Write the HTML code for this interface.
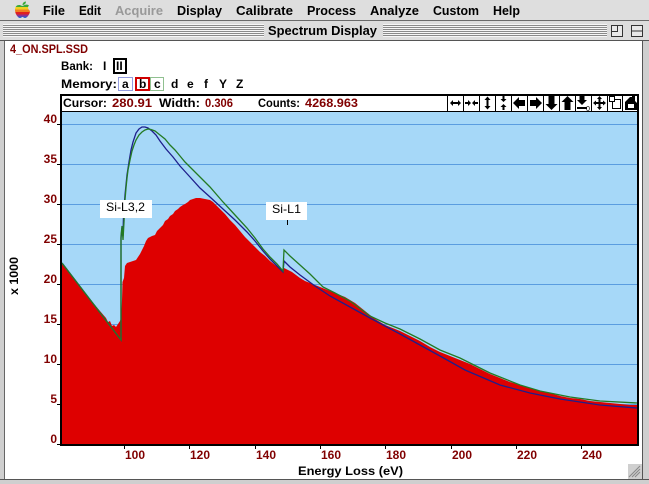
<!DOCTYPE html>
<html><head><meta charset="utf-8"><style>
html,body{margin:0;padding:0;background:#fff;width:649px;height:484px;overflow:hidden}
svg{display:block}
text{font-family:"Liberation Sans",Arial,sans-serif}
.b{font-weight:bold}
.m{font-size:13px;font-weight:bold;fill:#000}
.h{font-size:12px;font-weight:bold}
.dr{fill:#800000}
.tk{font-size:12px;font-weight:bold;fill:#800000}
</style></head><body>
<svg width="649" height="484" viewBox="0 0 649 484" xmlns="http://www.w3.org/2000/svg">
<defs>
<pattern id="pin" width="4" height="2" patternUnits="userSpaceOnUse"><rect width="4" height="1" fill="#f6f6f6"/><rect y="1" width="4" height="1" fill="#8a8a8a"/></pattern>
<clipPath id="pc"><rect x="62" y="112" width="575" height="332"/></clipPath>
<clipPath id="ap"><path d="M22,6 C19,4 15,5 15,10 C15,14 18,18 20,18 C21,18 22,17 22.5,17 C23,17 24,18 25,18 C27,18 30,14 30,11 C29,10 28,9 28,7.5 C28,6.5 28.5,6 29,5.5 C28,4.5 26,4.3 24.5,5 C23.5,5.5 22.5,6 22,6 Z M22.5,5 C22.5,3 24,1.5 26,1.5 C26,3.5 24.5,5 22.5,5 Z"/></clipPath>
</defs>
<rect width="649" height="484" fill="#fff"/>

<!-- menu bar -->
<rect x="0" y="0" width="649" height="21" fill="#dedede"/>
<line x1="0" y1="20.5" x2="649" y2="20.5" stroke="#6a6a6a"/>
<g clip-path="url(#ap)">
<rect x="14" y="0" width="18" height="7" fill="#3aa83a"/>
<rect x="14" y="7" width="18" height="2.5" fill="#f0d020"/>
<rect x="14" y="9.5" width="18" height="2.5" fill="#f08020"/>
<rect x="14" y="12" width="18" height="2.5" fill="#e02020"/>
<rect x="14" y="14.5" width="18" height="2" fill="#903090"/>
<rect x="14" y="16.5" width="18" height="3" fill="#2060d0"/>
</g>
<text class="m" x="43" y="15" textLength="22" lengthAdjust="spacingAndGlyphs">File</text>
<text class="m" x="79" y="15" textLength="22" lengthAdjust="spacingAndGlyphs">Edit</text>
<text class="m" x="115" y="15" textLength="48" lengthAdjust="spacingAndGlyphs" style="fill:#999">Acquire</text>
<text class="m" x="177" y="15" textLength="45" lengthAdjust="spacingAndGlyphs">Display</text>
<text class="m" x="236" y="15" textLength="57" lengthAdjust="spacingAndGlyphs">Calibrate</text>
<text class="m" x="307" y="15" textLength="49" lengthAdjust="spacingAndGlyphs">Process</text>
<text class="m" x="370" y="15" textLength="49" lengthAdjust="spacingAndGlyphs">Analyze</text>
<text class="m" x="433" y="15" textLength="46" lengthAdjust="spacingAndGlyphs">Custom</text>
<text class="m" x="493" y="15" textLength="27" lengthAdjust="spacingAndGlyphs">Help</text>

<!-- title bar -->
<rect x="0" y="21" width="649" height="20" fill="#dddddd"/>
<rect x="3" y="24" width="261" height="13" fill="url(#pin)"/>
<rect x="383" y="24" width="224" height="13" fill="url(#pin)"/>
<text class="m" x="268" y="35" textLength="109" lengthAdjust="spacingAndGlyphs">Spectrum Display</text>
<rect x="611.5" y="25.5" width="11" height="11" fill="#e8e8e8" stroke="#333"/>
<rect x="611.5" y="25.5" width="6" height="6" fill="none" stroke="#333"/>
<rect x="631.5" y="25.5" width="11" height="11" fill="#e8e8e8" stroke="#333"/>
<line x1="631.5" y1="31" x2="642.5" y2="31" stroke="#333"/>
<line x1="0" y1="40.5" x2="649" y2="40.5" stroke="#555"/>

<!-- window frame -->
<rect x="0" y="41" width="4" height="443" fill="#cfcfcf"/>
<line x1="4.5" y1="41" x2="4.5" y2="479" stroke="#666"/>
<rect x="643" y="41" width="6" height="443" fill="#cfcfcf"/>
<line x1="642.5" y1="41" x2="642.5" y2="479" stroke="#555"/>
<rect x="0" y="480" width="649" height="4" fill="#cfcfcf"/>
<line x1="0" y1="479.5" x2="649" y2="479.5" stroke="#555"/>
<rect x="628" y="464" width="14" height="15" fill="#cfcfcf"/>
<g stroke="#888" stroke-width="1"><line x1="632" y1="477" x2="640" y2="469"/><line x1="635" y1="477" x2="640" y2="472"/><line x1="629" y1="477" x2="640" y2="466"/></g>

<!-- header -->
<text class="h dr" x="10" y="53" textLength="78" lengthAdjust="spacingAndGlyphs">4_ON.SPL.SSD</text>
<text class="h" x="61" y="70" textLength="32" lengthAdjust="spacingAndGlyphs">Bank:</text>
<text class="h" x="103" y="70">I</text>
<rect x="114" y="59" width="12" height="14" fill="none" stroke="#000" stroke-width="2"/>
<text class="h" x="116" y="70">II</text>
<text class="h" x="61" y="88" textLength="56" lengthAdjust="spacingAndGlyphs">Memory:</text>
<rect x="118.5" y="77.5" width="14" height="13" fill="none" stroke="#2838c0" stroke-dasharray="1,1"/>
<text class="h" x="122" y="88">a</text>
<rect x="136" y="78" width="13" height="12" fill="none" stroke="#d00000" stroke-width="2"/>
<text class="h" x="139" y="88">b</text>
<rect x="150.5" y="77.5" width="13" height="13" fill="none" stroke="#208020" stroke-dasharray="1,1"/>
<text class="h" x="154" y="88">c</text>
<text class="h" x="171" y="88">d</text>
<text class="h" x="187" y="88">e</text>
<text class="h" x="204" y="88">f</text>
<text class="h" x="219" y="88">Y</text>
<text class="h" x="236" y="88">Z</text>

<!-- info bar -->
<rect x="61" y="95" width="577" height="17" fill="#fff" stroke="#000" stroke-width="2"/>
<text class="h" x="63" y="107" textLength="44" lengthAdjust="spacingAndGlyphs">Cursor:</text>
<text class="h dr" x="112" y="107" textLength="40" lengthAdjust="spacingAndGlyphs">280.91</text>
<text class="h" x="159" y="107" textLength="41" lengthAdjust="spacingAndGlyphs">Width:</text>
<text class="h dr" x="205" y="107" textLength="28" lengthAdjust="spacingAndGlyphs">0.306</text>
<text class="h" x="258" y="107" textLength="42" lengthAdjust="spacingAndGlyphs">Counts:</text>
<text class="h dr" x="305" y="107" textLength="53" lengthAdjust="spacingAndGlyphs">4268.963</text>

<!-- toolbar -->
<g stroke="#000" stroke-width="1">
<line x1="447.5" y1="95" x2="447.5" y2="111"/><line x1="463.5" y1="95" x2="463.5" y2="111"/><line x1="479.5" y1="95" x2="479.5" y2="111"/><line x1="495.5" y1="95" x2="495.5" y2="111"/><line x1="511.5" y1="95" x2="511.5" y2="111"/><line x1="527.5" y1="95" x2="527.5" y2="111"/><line x1="543.5" y1="95" x2="543.5" y2="111"/><line x1="559.5" y1="95" x2="559.5" y2="111"/><line x1="575.5" y1="95" x2="575.5" y2="111"/><line x1="591.5" y1="95" x2="591.5" y2="111"/><line x1="607.5" y1="95" x2="607.5" y2="111"/><line x1="622.5" y1="95" x2="622.5" y2="111"/>
</g>
<g fill="#000">
<!-- 0 outward horiz -->
<path d="M450,103 L453,100 L453,106 Z M461,103 L458,100 L458,106 Z"/><rect x="453" y="102" width="5" height="2"/>
<!-- 1 inward horiz -->
<path d="M471,103 L468,100 L468,106 Z M472,103 L475,100 L475,106 Z"/><rect x="465" y="102" width="3" height="2"/><rect x="475" y="102" width="3" height="2"/>
<!-- 2 outward vert -->
<path d="M487.5,96.5 L484.5,100 L490.5,100 Z M487.5,109.5 L484.5,106 L490.5,106 Z"/><rect x="486.5" y="100" width="2" height="6"/>
<!-- 3 inward vert -->
<path d="M503.5,102 L500.5,99 L506.5,99 Z M503.5,104 L500.5,107 L506.5,107 Z"/><rect x="502.5" y="96" width="2" height="3"/><rect x="502.5" y="107" width="2" height="3"/>
<!-- 4 left -->
<path d="M513,103 L519,97 L519,100 L525,100 L525,106 L519,106 L519,109 Z"/>
<!-- 5 right -->
<path d="M542,103 L536,97 L536,100 L530,100 L530,106 L536,106 L536,109 Z"/>
<!-- 6 down -->
<path d="M551.5,110 L545.5,104 L548.5,104 L548.5,96 L554.5,96 L554.5,104 L557.5,104 Z"/>
<!-- 7 up -->
<path d="M567.5,96 L561.5,102 L564.5,102 L564.5,110 L570.5,110 L570.5,102 L573.5,102 Z"/>
<!-- 8 down with bar -->
<path d="M582,105 L577,100 L579.5,100 L579.5,96 L584.5,96 L584.5,100 L587,100 Z"/><rect x="577" y="107" width="10" height="2"/>
<text x="586" y="111" style="font-size:7px">0</text>
<!-- 9 cross -->
<path d="M599.5,96 L597,99 L602,99 Z M599.5,110 L597,107 L602,107 Z M593,103 L596,100.5 L596,105.5 Z M606,103 L603,100.5 L603,105.5 Z"/><rect x="598.5" y="99" width="2" height="8"/><rect x="596" y="102" width="7" height="2"/>
</g>
<rect x="612.5" y="99.5" width="8" height="9" fill="#fff" stroke="#000"/>
<rect x="609.5" y="96.5" width="5" height="5" fill="#fff" stroke="#000"/>
<path d="M625,110 L625,102 L630,97 L632,97 L632,95 L635,95 L635,101 L637,103 L637,110 Z" fill="#000"/>
<rect x="628" y="104" width="6" height="4" fill="#fff"/>

<!-- plot -->
<rect x="62" y="112" width="575" height="332" fill="#a6d8f8"/>
<g stroke="#5a9de0" stroke-width="1">
<line x1="62" y1="124.5" x2="637" y2="124.5"/><line x1="62" y1="164.5" x2="637" y2="164.5"/><line x1="62" y1="204.5" x2="637" y2="204.5"/><line x1="62" y1="244.5" x2="637" y2="244.5"/><line x1="62" y1="284.5" x2="637" y2="284.5"/><line x1="62" y1="324.5" x2="637" y2="324.5"/><line x1="62" y1="364.5" x2="637" y2="364.5"/><line x1="62" y1="404.5" x2="637" y2="404.5"/>
</g>
<g clip-path="url(#pc)">
<path fill="#de0000" d="M62,264 L70,274 L80,287 L90,299 L100,311 L106,318 L108,322 L110,321 L112,326 L114,325 L116,327 L118,324 L120,321 L121,318 L122,300 L122.5,282 L124,278 L125,266 L127,263 L130,262 L133,261 L136,260 L138,257 L140,254 L142,250 L144,246 L146,241 L148,238 L150,237 L152,236 L155,235 L157,231 L160,228 L163,225 L165,221 L168,219 L170,216 L173,214 L175,211 L178,209 L180,207 L183,205 L185,204 L188,202 L190,200 L193,199 L196,198 L200,198 L205,199 L210,200 L213,202 L216,205 L220,209 L225,214 L230,220 L235,225 L240,231 L245,237 L250,242 L255,247 L260,252 L265,256 L270,261 L275,265 L280,269 L283,272 L284,268 L288,270 L292,272 L296,275 L300,278 L305,281 L310,283 L315,285 L320,287 L325,289 L330,291 L335,293 L340,295 L345,297 L350,300 L355,303 L360,307 L365,311 L370,315 L375,319 L380,322 L385,325 L390,327 L395,329 L400,331 L410,336 L420,341 L430,347 L440,352 L450,356 L460,360 L470,364 L480,369 L490,374 L500,378 L510,382 L520,385 L530,388 L540,391 L550,393 L560,396 L570,398 L580,399 L590,401 L600,402 L610,403 L620,404 L630,405 L637,405 L637,444 L62,444 Z"/>
<polyline fill="none" stroke="#1e1e8c" stroke-width="1.3" points="62,263 121,340 121,238 122,228 123,236 123.5,215 125,195 127,175 129,162 131,150 133,142 136,133 139,129 142,127 145,127 148,128 152,131 156,135 160,141 166,149 173,157 180,166 190,177 200,188 210,197 223,209 235,220 247,232 255,241 263,251 270,259 277,266 283,272 284,261 290,267 300,275 315,286 330,296 350,307 370,318 400,334 420,345 440,356 465,370 500,385 530,393 560,399 600,405 637,408"/>
<polyline fill="none" stroke="#237a23" stroke-width="1.3" points="62,263 121,340 121,236 122,226 123,240 124,222 125,200 126,188 127,178 128,170 130,160 132,151 134,145 136,140 139,135 142,132 145,130 148,129 151,129.5 155,131 160,135 165,139 170,145 175,150 180,156 185,162 190,167 195,172 200,177 210,187 223,202 235,215 247,228 255,238 263,249 270,257 277,264 283,271 284,250 290,256 300,265 310,274 323,287 335,293 350,301 370,316 385,323 400,329 420,339 440,350 460,358 490,373 520,385 540,391 570,397 600,401 637,403"/>
</g>
<!-- peak labels -->
<rect x="100" y="200" width="52" height="18" fill="#fff"/>
<text x="106" y="211" style="font-size:12px" textLength="39" lengthAdjust="spacingAndGlyphs">Si-L3,2</text>
<rect x="266" y="202" width="41" height="18" fill="#fff"/>
<text x="272" y="213" style="font-size:12px" textLength="29" lengthAdjust="spacingAndGlyphs">Si-L1</text>
<line x1="287.5" y1="220" x2="287.5" y2="225" stroke="#000"/>

<!-- frame -->
<line x1="61" y1="112" x2="61" y2="446" stroke="#000" stroke-width="2"/>
<line x1="638" y1="112" x2="638" y2="446" stroke="#000" stroke-width="2"/>
<line x1="60" y1="445" x2="639" y2="445" stroke="#000" stroke-width="2"/>

<!-- y ticks -->
<g stroke="#000"><line x1="57" y1="124.5" x2="60" y2="124.5"/><line x1="57" y1="164.5" x2="60" y2="164.5"/><line x1="57" y1="204.5" x2="60" y2="204.5"/><line x1="57" y1="244.5" x2="60" y2="244.5"/><line x1="57" y1="284.5" x2="60" y2="284.5"/><line x1="57" y1="324.5" x2="60" y2="324.5"/><line x1="57" y1="364.5" x2="60" y2="364.5"/><line x1="57" y1="404.5" x2="60" y2="404.5"/><line x1="57" y1="444.5" x2="60" y2="444.5"/></g>
<g class="tk" text-anchor="end">
<text x="57" y="123">40</text><text x="57" y="163">35</text><text x="57" y="203">30</text><text x="57" y="243">25</text><text x="57" y="283">20</text><text x="57" y="323">15</text><text x="57" y="363">10</text><text x="57" y="403">5</text><text x="57" y="443">0</text>
</g>
<!-- x ticks -->
<g stroke="#000"><line x1="124.5" y1="446" x2="124.5" y2="449"/><line x1="189.5" y1="446" x2="189.5" y2="449"/><line x1="255.5" y1="446" x2="255.5" y2="449"/><line x1="320.5" y1="446" x2="320.5" y2="449"/><line x1="385.5" y1="446" x2="385.5" y2="449"/><line x1="451.5" y1="446" x2="451.5" y2="449"/><line x1="516.5" y1="446" x2="516.5" y2="449"/><line x1="581.5" y1="446" x2="581.5" y2="449"/></g>
<g class="tk">
<text x="125" y="459">100</text><text x="190" y="459">120</text><text x="256" y="459">140</text><text x="321" y="459">160</text><text x="386" y="459">180</text><text x="452" y="459">200</text><text x="517" y="459">220</text><text x="582" y="459">240</text>
</g>
<text class="h" x="298" y="475" textLength="105" lengthAdjust="spacingAndGlyphs">Energy Loss (eV)</text>
<text class="h" transform="translate(18,276) rotate(-90)" text-anchor="middle" textLength="38" lengthAdjust="spacingAndGlyphs">x 1000</text>
</svg>
</body></html>
